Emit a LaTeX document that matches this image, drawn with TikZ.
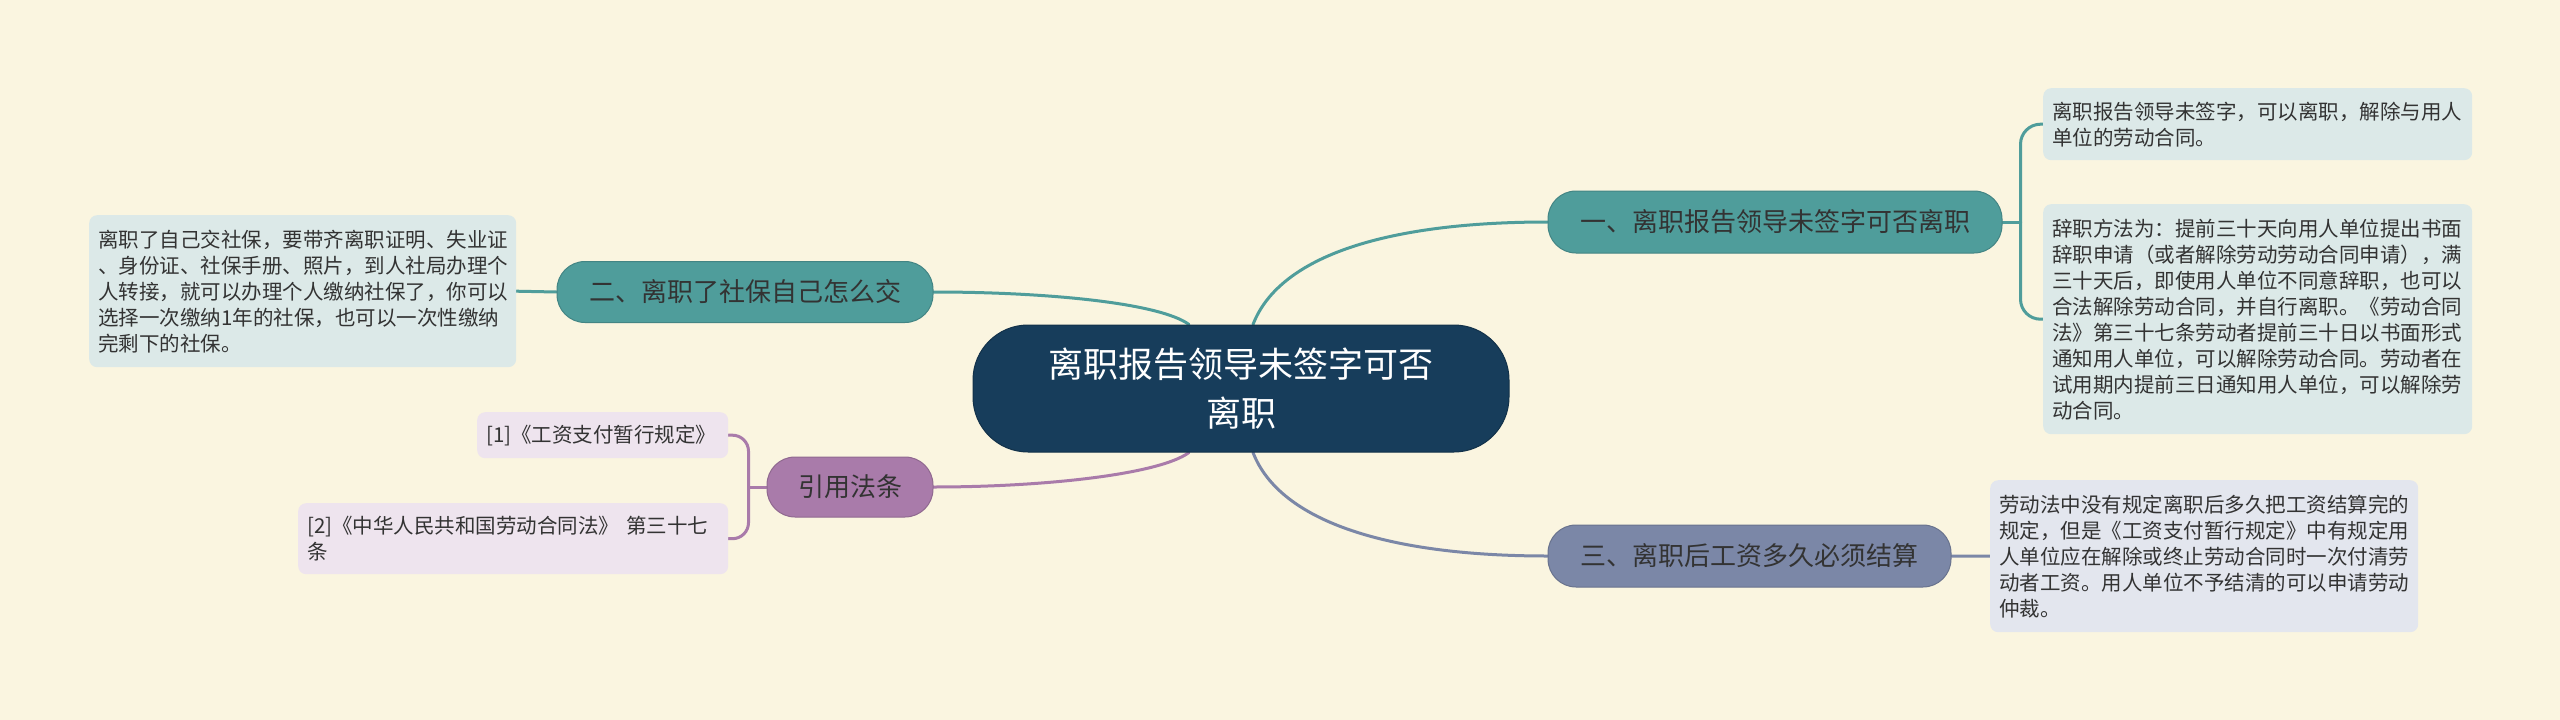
\documentclass[tikz,border=0pt]{standalone}
\usepackage{fontspec}
\setmainfont{Noto Sans CJK SC}
\usetikzlibrary{calc}
\definecolor{bgc}{HTML}{FAF5E0}
\definecolor{navy}{HTML}{173D5B}
\definecolor{tealc}{HTML}{4F9D9B}
\definecolor{slatec}{HTML}{7B87A7}
\definecolor{plumc}{HTML}{A97BAA}
\definecolor{leafT}{HTML}{DCE9E8}
\definecolor{leafS}{HTML}{E3E6EE}
\definecolor{leafP}{HTML}{EEE4EE}
\definecolor{ink}{HTML}{333333}
\pgfdeclarelayer{back}
\pgfdeclarelayer{links}
\pgfsetlayers{back,links,main}
\tikzset{
  rootbox/.style={fill=navy, draw=navy!80!black, line width=1pt, rounded corners=55pt,
    text=white, font=\fontsize{35}{49}\selectfont, align=center,
    minimum width=536pt, minimum height=127pt, inner sep=0pt},
  mainbox/.style={draw=#1!85!black, fill=#1, line width=1pt, rounded corners=28pt,
    text=ink, font=\fontsize{26}{30}\selectfont, inner sep=0pt},
  leafbox/.style={fill=#1, rounded corners=8pt, text=ink,
    font=\fontsize{20.5}{26}\selectfont, align=left, inner xsep=9pt, inner ysep=8pt,
    anchor=north west},
  conn/.style={draw=#1, line width=3pt, line cap=round},
}
\begin{document}
\begin{tikzpicture}[x=1pt,y=-1pt]
\begin{pgfonlayer}{back}
\fill[bgc] (0,0) rectangle (2560,720);
\end{pgfonlayer}
\useasboundingbox (0,0) rectangle (2560,720);

% root
\node[rootbox] (c) at (1241,388.5) {离职报告领导未签字可否\\离职};

% main branches
\node[mainbox=tealc, minimum width=454pt, minimum height=62pt] (b1) at (1775,222) {一、离职报告领导未签字可否离职};
\node[mainbox=tealc, minimum width=376pt, minimum height=61pt] (b2) at (745,292) {二、离职了社保自己怎么交};
\node[mainbox=slatec, minimum width=403pt, minimum height=62pt] (b3) at (1749.5,556) {三、离职后工资多久必须结算};
\node[mainbox=plumc, minimum width=166pt, minimum height=60pt] (rf) at (850,487) {引用法条};

% leaves
\node[leafbox=leafT, text width=411pt, minimum height=72pt] (l1a) at (2043,88)
 {离职报告领导未签字，可以离职，解除与用人\\单位的劳动合同。};
\node[leafbox=leafT, text width=411pt, minimum height=230pt] (l1b) at (2043,204)
 {辞职方法为：提前三十天向用人单位提出书面\\
  辞职申请（或者解除劳动劳动合同申请），满\\
  三十天后，即使用人单位不同意辞职，也可以\\
  合法解除劳动合同，并自行离职。《劳动合同\\
  法》第三十七条劳动者提前三十日以书面形式\\
  通知用人单位，可以解除劳动合同。劳动者在\\
  试用期内提前三日通知用人单位，可以解除劳\\
  动合同。};
\node[leafbox=leafT, text width=409pt, minimum height=152pt] (l2) at (89,215)
 {离职了自己交社保，要带齐离职证明、失业证\\
  、身份证、社保手册、照片，到人社局办理个\\
  人转接，就可以办理个人缴纳社保了，你可以\\
  选择一次缴纳1年的社保，也可以一次性缴纳\\
  完剩下的社保。};
\node[leafbox=leafS, text width=410pt, minimum height=152pt] (l3) at (1990,480)
 {劳动法中没有规定离职后多久把工资结算完的\\
  规定，但是《工资支付暂行规定》中有规定用\\
  人单位应在解除或终止劳动合同时一次付清劳\\
  动者工资。用人单位不予结清的可以申请劳动\\
  仲裁。};
\node[leafbox=leafP, text width=233pt, minimum height=46pt] (r1) at (477,412)
 {[1]《工资支付暂行规定》};
\node[leafbox=leafP, text width=412pt, minimum height=71pt] (r2) at (298,503)
 {[2]《中华人民共和国劳动合同法》 第三十七\\条};

\begin{pgfonlayer}{links}
% root to branches
\coordinate (cR1) at ($(c.north)+(12,0)$);
\coordinate (cR2) at ($(c.south)+(12,0)$);
\coordinate (cL1) at ($(c.north)+(-52,0)$);
\coordinate (cL2) at ($(c.south)+(-52,0)$);
\draw[conn=tealc] (cR1) .. controls ($(cR1)+(27,-70)$) and ($(b1.west)+(-157,0)$) .. (b1.west);
\draw[conn=slatec] (cR2) .. controls ($(cR2)+(27,70)$) and ($(b3.west)+(-157,0)$) .. (b3.west);
\draw[conn=tealc] (cL1) .. controls ($(cL1)+(-30,-22)$) and ($(b2.east)+(110,0)$) .. (b2.east);
\draw[conn=plumc] (cL2) .. controls ($(cL2)+(-30,22)$) and ($(rf.east)+(110,0)$) .. (rf.east);

% branch 1 bracket
\draw[conn=tealc] (b1.east) -- ++(18,0) coordinate (s1);
\draw[conn=tealc, rounded corners=20pt] (s1) |- (l1a.west);
\draw[conn=tealc, rounded corners=20pt] (s1) |- (l1b.west);

% branch 2 and 3 single leaves
\draw[conn=tealc] (b2.west) -- (l2.east);
\draw[conn=slatec] (b3.east) -- (l3.west);

% references bracket
\draw[conn=plumc] (rf.west) -- ++(-18,0) coordinate (s3);
\draw[conn=plumc, rounded corners=16pt] (s3) |- (r1.east);
\draw[conn=plumc, rounded corners=16pt] (s3) |- (r2.east);
\end{pgfonlayer}
\end{tikzpicture}
\end{document}
